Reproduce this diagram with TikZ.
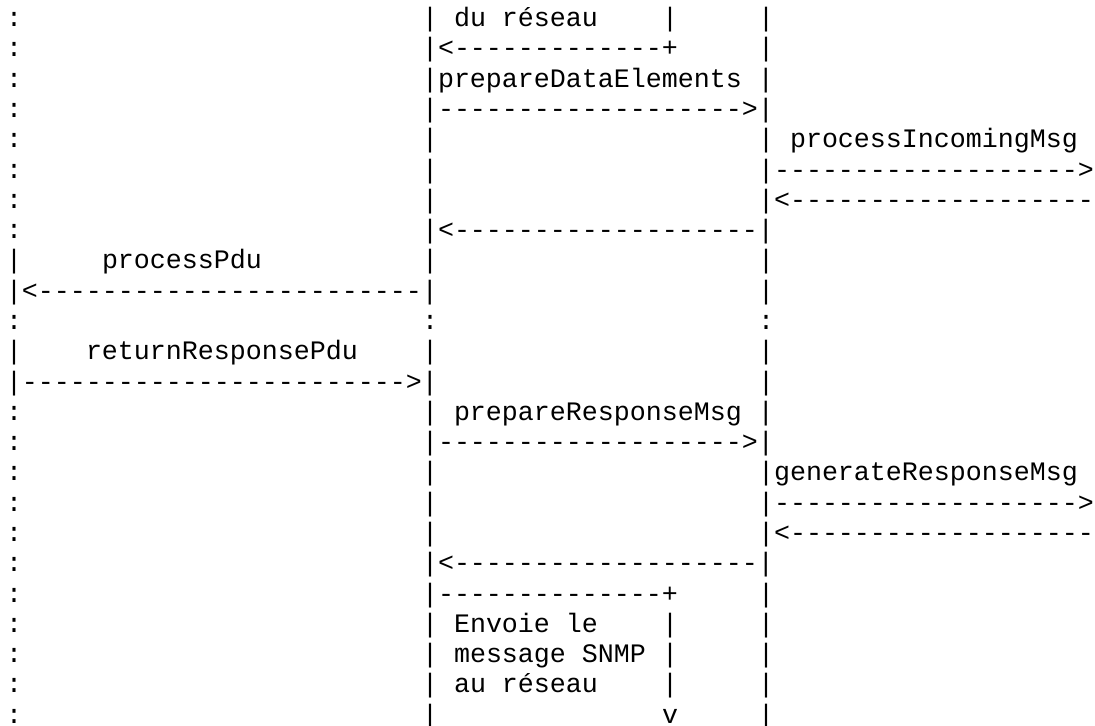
\documentclass[tikz,border=0pt]{standalone}
\usepackage{fontspec}
\newfontfamily\asciifont{Liberation Mono}
\newcommand{\glyphs}[3] % column, row, text
{
	\node[ascii] (r#2-c#1) at (#1,#2) {#3};
}

\begin{document}
\begin{tikzpicture}[x=8pt, y=-15.145pt,
	ascii/.style={anchor=base west, inner sep=0pt, outer sep=0pt, font=\asciifont\fontsize{13.33pt}{15.145pt}\selectfont}]
	% page: 68 columns x 24 rows
	\fill[white] (-0.375,-0.878) rectangle (68.0625,23.09);
	\useasboundingbox (-0.375,-0.878) rectangle (68.0625,23.09);
	% left lifeline
	\foreach \j in {0,1,2,3,4,5,6,7,10,13,14,15,16,17,18,19,20,21,22,23}
		\glyphs{0}{\j}{:};
	\foreach \j in {8,11}
		\glyphs{0}{\j}{|};
	% middle lifeline
	\foreach \j in {0,4,5,6,8,11,15,16,17,20,21,22,23}
		\glyphs{26}{\j}{|};
	\glyphs{26}{10}{:};
	% right lifeline
	\foreach \j in {0,1,8,9,11,12,19,20,21,22,23}
		\glyphs{47}{\j}{|};
	\glyphs{47}{10}{:};
	% network box
	\foreach \j in {0,20,21,22}
		\glyphs{41}{\j}{|};
	\glyphs{28}{0}{du réseau};
	\glyphs{26}{1}{|<-------------+};
	\glyphs{26}{19}{|--------------+};
	\glyphs{28}{20}{Envoie le};
	\glyphs{28}{21}{message SNMP};
	\glyphs{28}{22}{au réseau};
	\glyphs{41}{23}{v};
	% incoming message
	\glyphs{26}{2}{|prepareDataElements |};
	\glyphs{26}{3}{|------------------->|};
	\glyphs{47}{4}{| processIncomingMsg};
	\glyphs{47}{5}{|------------------->};
	\glyphs{47}{6}{|<-------------------};
	\glyphs{26}{7}{|<-------------------|};
	% pdu processing
	\glyphs{6}{8}{processPdu};
	\glyphs{0}{9}{|<------------------------|};
	\glyphs{5}{11}{returnResponsePdu};
	\glyphs{0}{12}{|------------------------>|};
	% response message
	\glyphs{26}{13}{| prepareResponseMsg |};
	\glyphs{26}{14}{|------------------->|};
	\glyphs{47}{15}{|generateResponseMsg};
	\glyphs{47}{16}{|------------------->};
	\glyphs{47}{17}{|<-------------------};
	\glyphs{26}{18}{|<-------------------|};
\end{tikzpicture}
\end{document}
